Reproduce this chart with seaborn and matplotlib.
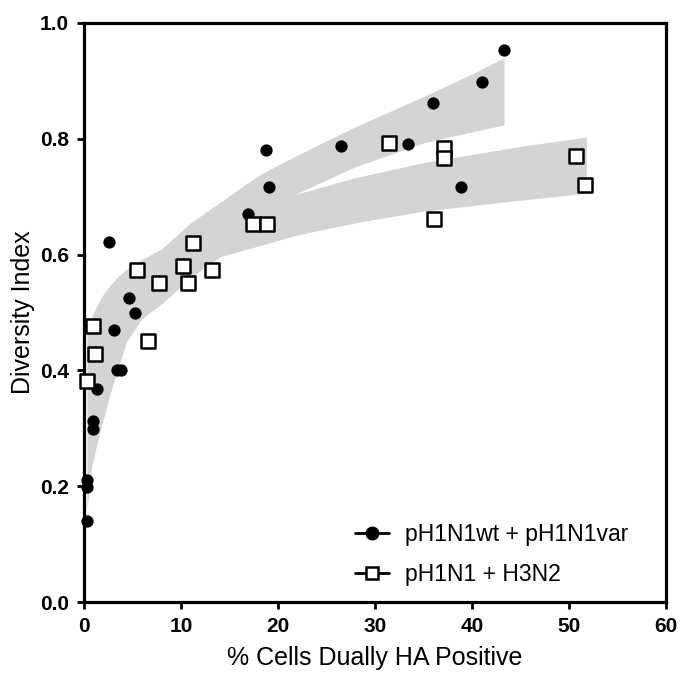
import matplotlib
matplotlib.use('Agg')
import matplotlib.pyplot as plt
import seaborn as sns
import pandas as pd
from matplotlib.lines import Line2D

# ---- data ----
circ_x = [0.34, 0.34, 0.34, 0.96, 0.96, 1.37, 2.58, 3.09, 3.37, 3.78, 4.61, 5.29,
          16.94, 18.73, 19.1, 26.5, 33.4, 36.0, 38.9, 41.06, 43.3]
circ_y = [0.140, 0.198, 0.210, 0.299, 0.313, 0.368, 0.621, 0.470, 0.400, 0.400, 0.525, 0.500,
          0.670, 0.781, 0.716, 0.788, 0.791, 0.861, 0.716, 0.898, 0.953]

sq_x = [0.34, 0.96, 1.13, 5.49, 6.57, 7.70, 10.24, 10.72, 11.27, 13.16, 17.45, 18.9,
        31.4, 36.1, 37.1, 37.1, 50.7, 51.6]
sq_y = [0.381, 0.477, 0.429, 0.573, 0.451, 0.551, 0.581, 0.551, 0.620, 0.573, 0.652, 0.652,
        0.793, 0.662, 0.784, 0.767, 0.771, 0.720]

circ_band_x = [0.3, 0.8, 1.5, 2.7, 4.4, 6, 8, 11, 14, 18, 22, 28, 35, 40, 43.3]
circ_lo = [0.16, 0.235, 0.285, 0.36, 0.45, 0.49, 0.522, 0.575, 0.62, 0.665, 0.706, 0.752, 0.793, 0.812, 0.824]
circ_hi = [0.30, 0.37, 0.42, 0.47, 0.53, 0.57, 0.61, 0.655, 0.69, 0.737, 0.772, 0.821, 0.873, 0.912, 0.94]

sq_band_x = [0.3, 0.6, 1, 1.8, 2.7, 3.5, 4.4, 6, 8, 11, 14, 18, 22, 28, 35, 45, 51.8]
sq_lo = [0.30, 0.33, 0.36, 0.395, 0.42, 0.44, 0.46, 0.49, 0.515, 0.56, 0.596, 0.615, 0.634, 0.655, 0.675, 0.694, 0.706]
sq_hi = [0.47, 0.485, 0.50, 0.527, 0.547, 0.562, 0.575, 0.592, 0.61, 0.635, 0.655, 0.68, 0.705, 0.733, 0.759, 0.787, 0.803]

series_labels = ['pH1N1wt + pH1N1var', 'pH1N1 + H3N2']
x_ticks = [0, 10, 20, 30, 40, 50, 60]
y_ticks = [0.0, 0.2, 0.4, 0.6, 0.8, 1.0]
x_label = '% Cells Dually HA Positive'
y_label = 'Diversity Index'

# ---- style ----
sns.set_theme(style='ticks')
plt.rcParams['font.family'] = ['Liberation Sans', 'DejaVu Sans']
plt.rcParams['text.color'] = 'black'

fig = plt.figure(figsize=(6.81, 6.73), dpi=100)
ax = fig.add_axes([84 / 681, 1 - 602 / 673, (666 - 84) / 681, (602 - 23) / 673])

band_color = '#d4d4d4'
ax.fill_between(circ_band_x, circ_lo, circ_hi, color=band_color, lw=0, zorder=1)
ax.fill_between(sq_band_x, sq_lo, sq_hi, color=band_color, lw=0, zorder=1)

df_c = pd.DataFrame({'x': circ_x, 'y': circ_y})
df_s = pd.DataFrame({'x': sq_x, 'y': sq_y})
sns.scatterplot(data=df_c, x='x', y='y', marker='o', s=78, color='black',
                edgecolor='black', linewidth=0, ax=ax, zorder=3, clip_on=False, legend=False)
sns.scatterplot(data=df_s, x='x', y='y', marker='s', s=90, color='white',
                edgecolor='black', linewidth=1.8, ax=ax, zorder=4, clip_on=False, legend=False)

ax.set_xlim(0, 60)
ax.set_ylim(0, 1.0)
ax.set_xticks(x_ticks)
ax.set_yticks(y_ticks)
ax.set_xticklabels([str(t) for t in x_ticks], fontweight='bold', fontsize=15)
ax.set_yticklabels([f'{t:.1f}' for t in y_ticks], fontweight='bold', fontsize=15)
ax.tick_params(axis='both', length=5, width=2, color='black', pad=6, labelcolor='black')

for sp in ax.spines.values():
    sp.set_visible(True)
    sp.set_linewidth(2.3)
    sp.set_color('black')

ax.set_xlabel(x_label, fontsize=18, labelpad=7, color='black')
ax.set_ylabel(y_label, fontsize=18, labelpad=3, color='black')

handles = [
    Line2D([0], [0], color='black', lw=2, marker='o', markersize=9,
           markerfacecolor='black', markeredgecolor='black'),
    Line2D([0], [0], color='black', lw=2, marker='s', markersize=9,
           markerfacecolor='white', markeredgecolor='black', markeredgewidth=1.8),
]
leg = ax.legend(handles, series_labels, loc='lower left', bbox_to_anchor=(0.43, -0.008),
                frameon=False, fontsize=16.5, handlelength=1.5, handletextpad=0.7,
                labelspacing=0.75)
for t in leg.get_texts():
    t.set_color('black')

fig.savefig('out.png', dpi=100)
